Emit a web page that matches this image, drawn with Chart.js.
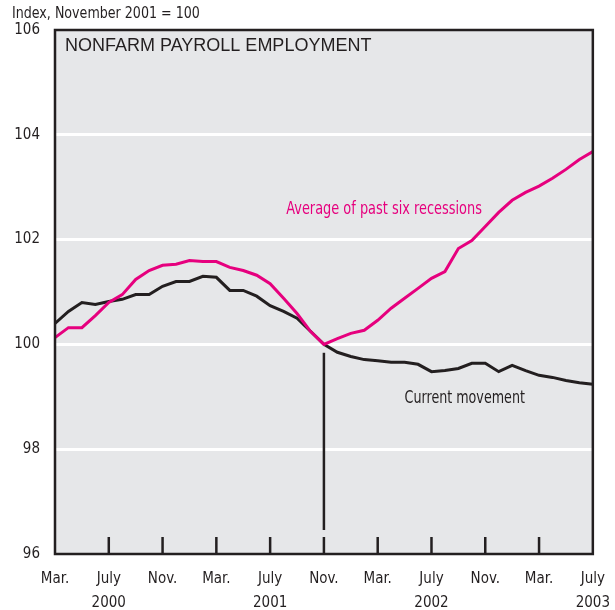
<!DOCTYPE html>
<html>
<head>
<meta charset="utf-8">
<script src="https://cdn.jsdelivr.net/npm/chart.js@4/dist/chart.umd.min.js"></script>
<style>
  body { margin: 0; background: #fff; }
  #wrap { width: 615px; height: 610px; position: relative; }
</style>
</head>
<body>
<div id="wrap"><canvas id="payrollChart" width="615" height="610"></canvas></div>
<script>
// Monthly index values, Mar. 2000 .. July 2003 (Nov. 2001 = 100)
const currentMovement = [
  100.40, 100.63, 100.80, 100.76, 100.82, 100.86, 100.95, 100.95, 101.11, 101.20,
  101.20, 101.30, 101.28, 101.03, 101.03, 100.92, 100.74, 100.63, 100.50, 100.25,
  100.00, 99.85, 99.77, 99.71, 99.69, 99.66, 99.66, 99.62, 99.48, 99.50,
  99.54, 99.64, 99.64, 99.48, 99.60, 99.50, 99.41, 99.37, 99.31, 99.27,
  99.24
];
const pastRecessions = [
  100.13, 100.32, 100.32, 100.55, 100.80, 100.95, 101.24, 101.41, 101.51, 101.53,
  101.60, 101.58, 101.58, 101.47, 101.41, 101.32, 101.16, 100.88, 100.59, 100.25,
  100.00, 100.11, 100.21, 100.27, 100.46, 100.69, 100.88, 101.07, 101.26, 101.39,
  101.83, 101.98, 102.25, 102.52, 102.75, 102.90, 103.02, 103.17, 103.34, 103.53,
  103.68
];
const monthLabels = ["Mar.", "July", "Nov.", "Mar.", "July", "Nov.", "Mar.", "July", "Nov.", "Mar.", "July"];
const yearLabels = ["", "2000", "", "", "2001", "", "", "2002", "", "", "2003"];
const yTicks = [96, 98, 100, 102, 104, 106];
const recessionStart = 20; // Nov. 2001

const textFont = "'Liberation Sans Narrow', 'DejaVu Sans Condensed', sans-serif";
const ink = "#231f20";
const magenta = "#e6007e";

const toPoints = arr => arr.map((v, i) => ({ x: i, y: v }));

// narrow text: squeeze horizontally like the condensed face of the original
function narrowText(ctx, str, x, y, squeeze) {
  ctx.save();
  ctx.translate(x, y);
  ctx.scale(squeeze, 1);
  ctx.fillText(str, 0, 0);
  ctx.restore();
}

// background, frame, ticks and labels drawn over the plot
const decorPlugin = {
  id: "decor",
  beforeDraw(chart) {
    const { ctx, chartArea: a } = chart;
    ctx.save();
    ctx.fillStyle = "#e6e7e9";
    ctx.fillRect(a.left, a.top, a.right - a.left, a.bottom - a.top);
    ctx.restore();
  },
  afterDatasetsDraw(chart) {
    const { ctx, chartArea: a, scales } = chart;
    const x = scales.x, y = scales.y;
    ctx.save();
    // inner ticks along the bottom
    ctx.strokeStyle = ink;
    ctx.lineWidth = 2.5;
    for (let i = 4; i < 40; i += 4) {
      const px = x.getPixelForValue(i);
      ctx.beginPath();
      ctx.moveTo(px, a.bottom);
      ctx.lineTo(px, a.bottom - 17);
      ctx.stroke();
    }
    // recession marker line
    const rx = x.getPixelForValue(recessionStart);
    ctx.beginPath();
    ctx.moveTo(rx, y.getPixelForValue(99.84));
    ctx.lineTo(rx, a.bottom - 24);
    ctx.stroke();
    // frame
    ctx.lineWidth = 2.5;
    ctx.strokeRect(a.left, a.top, a.right - a.left, a.bottom - a.top);

    // texts
    ctx.textBaseline = "middle";
    ctx.textAlign = "left";
    ctx.fillStyle = ink;
    ctx.font = "18px 'Liberation Sans', Arial, sans-serif";
    ctx.fillText("NONFARM PAYROLL EMPLOYMENT", a.left + 10, a.top + 16);

    ctx.font = "17px " + textFont;
    ctx.fillStyle = magenta;
    narrowText(ctx, "Average of past six recessions", x.getPixelForValue(17.2), y.getPixelForValue(102.58), 0.845);
    ctx.fillStyle = ink;
    narrowText(ctx, "Current movement", x.getPixelForValue(26.0), y.getPixelForValue(98.97), 0.83);

    ctx.font = "16px " + textFont;
    narrowText(ctx, "Index, November 2001 = 100", 12, 14, 0.88);
    ctx.restore();
  }
};

new Chart(document.getElementById("payrollChart"), {
  type: "line",
  data: {
    datasets: [
      {
        label: "Average of past six recessions",
        data: toPoints(pastRecessions),
        borderColor: magenta,
        borderWidth: 3,
        pointRadius: 0,
        tension: 0
      },
      {
        label: "Current movement",
        data: toPoints(currentMovement),
        borderColor: ink,
        borderWidth: 3,
        pointRadius: 0,
        tension: 0
      }
    ]
  },
  options: {
    responsive: false,
    animation: false,
    layout: { padding: { top: 30, right: 22, left: 0, bottom: 0 } },
    plugins: {
      legend: { display: false },
      tooltip: { enabled: false }
    },
    scales: {
      x: {
        type: "linear",
        min: 0,
        max: 40,
        afterBuildTicks: s => { s.ticks = monthLabels.map((_, i) => ({ value: i * 4 })); },
        afterFit: s => { s.height = 56; },
        grid: { display: false },
        border: { display: false },
        ticks: {
          color: ink,
          font: { family: textFont, size: 15, lineHeight: 1.6 },
          padding: 5,
          maxRotation: 0,
          autoSkip: false,
          callback: (v, i) => [monthLabels[i], yearLabels[i]]
        }
      },
      y: {
        min: 96,
        max: 106,
        afterBuildTicks: s => { s.ticks = yTicks.map(v => ({ value: v })); },
        afterFit: s => { s.width = 55; },
        grid: {
          color: c => (c.tick.value === 96 || c.tick.value === 106) ? "rgba(0,0,0,0)" : "#ffffff",
          lineWidth: 3,
          drawTicks: false
        },
        border: { display: false },
        ticks: {
          color: ink,
          font: { family: textFont, size: 15 },
          padding: 15
        }
      }
    }
  },
  plugins: [decorPlugin]
});
</script>
</body>
</html>
